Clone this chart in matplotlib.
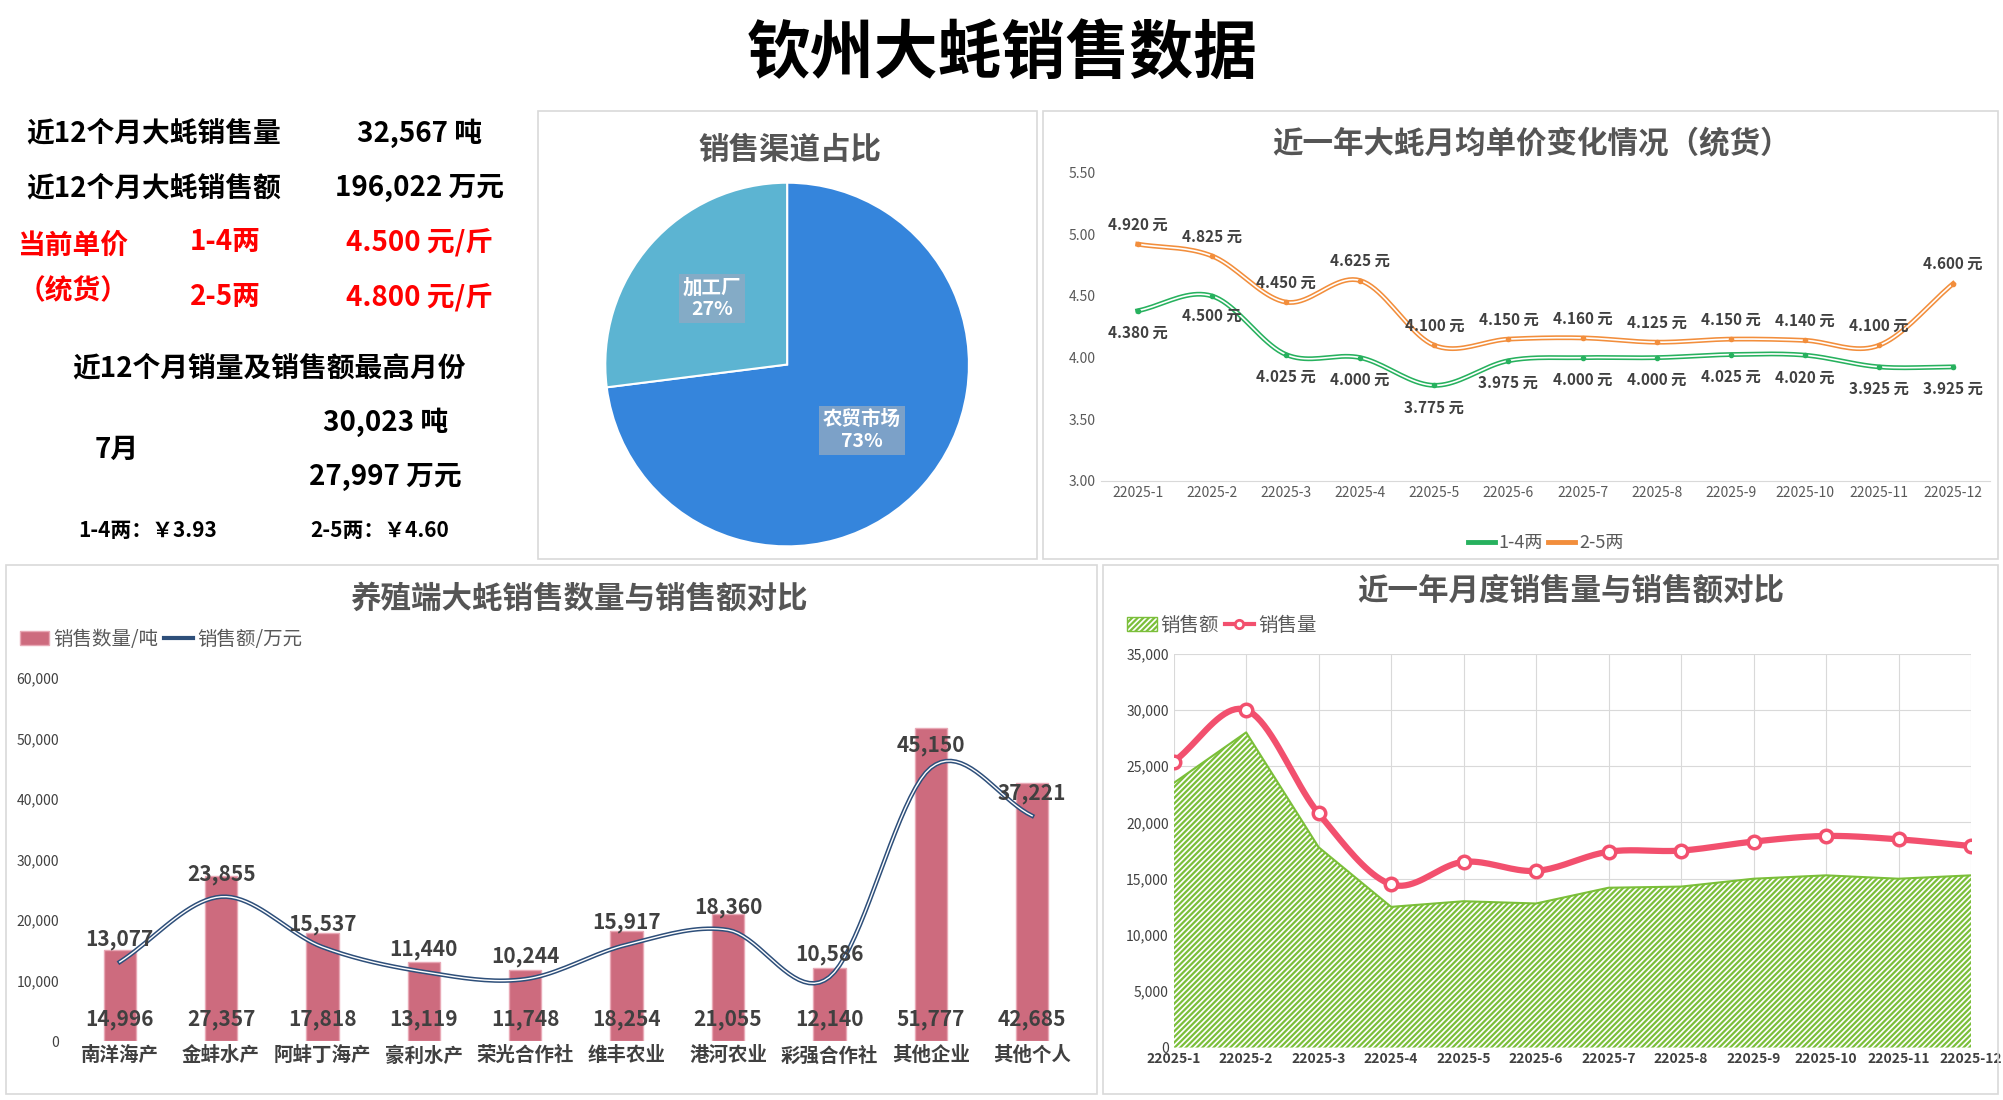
import matplotlib
matplotlib.use("Agg")
import matplotlib.pyplot as plt
import numpy as np
from matplotlib.patches import Rectangle, Patch
from matplotlib.lines import Line2D

plt.rcParams['font.family'] = ['Noto Sans CJK SC', 'DejaVu Sans']
plt.rcParams['hatch.color'] = '#7bbf3a'
plt.rcParams['hatch.linewidth'] = 1.6

months = [f"22025-{i}" for i in range(1, 13)]
price_14 = [4.380, 4.500, 4.025, 4.000, 3.775, 3.975, 4.000, 4.000, 4.025, 4.020, 3.925, 3.925]
price_25 = [4.920, 4.825, 4.450, 4.625, 4.100, 4.150, 4.160, 4.125, 4.150, 4.140, 4.100, 4.600]

channels = ["农贸市场", "加工厂"]
channel_share = [73, 27]

farms = ["南洋海产", "金蚌水产", "阿蚌丁海产", "豪利水产", "荣光合作社", "维丰农业", "港河农业", "彩强合作社", "其他企业", "其他个人"]
farm_qty = [14996, 27357, 17818, 13119, 11748, 18254, 21055, 12140, 51777, 42685]
farm_amt = [13077, 23855, 15537, 11440, 10244, 15917, 18360, 10586, 45150, 37221]

month_amt = [23500, 28000, 17800, 12500, 13000, 12800, 14200, 14300, 15000, 15300, 15000, 15300]
month_qty = [25400, 30000, 20800, 14500, 16500, 15700, 17400, 17500, 18300, 18800, 18500, 17900]

W, H = 1565.0, 860.0
fig = plt.figure(figsize=(20.03, 11.0), dpi=100)
fig.patch.set_facecolor('white')

def fx(x): return x / W
def fy(y): return 1 - y / H

def box(x0, y0, x1, y1):
    fig.add_artist(Rectangle((fx(x0), fy(y1)), fx(x1) - fx(x0), fy(y0) - fy(y1),
                             transform=fig.transFigure, fill=False, ec='#d9d9d9', lw=1.2))

def smooth(xs, ys, n=20):
    xs = np.asarray(xs, float); ys = np.asarray(ys, float)
    px = np.concatenate([[2*xs[0]-xs[1]], xs, [2*xs[-1]-xs[-2]]])
    py = np.concatenate([[2*ys[0]-ys[1]], ys, [2*ys[-1]-ys[-2]]])
    ox, oy = [], []
    for i in range(1, len(px) - 2):
        t = np.linspace(0, 1, n, endpoint=False)
        for P, out in ((px, ox), (py, oy)):
            p0, p1, p2, p3 = P[i-1], P[i], P[i+1], P[i+2]
            out.extend(0.5*((2*p1) + (-p0+p2)*t + (2*p0-5*p1+4*p2-p3)*t**2 + (-p0+3*p1-3*p2+p3)*t**3))
    ox.append(xs[-1]); oy.append(ys[-1])
    return np.array(ox), np.array(oy)

# Title
fig.text(fx(783), fy(42), "钦州大蚝销售数据", ha='center', va='center', fontsize=46, fontweight='bold')

# KPI panel
kf = dict(fontsize=20, fontweight='bold', va='center')
fig.text(fx(120), fy(104), "近12个月大蚝销售量", ha='center', **kf)
fig.text(fx(328), fy(104), "32,567 吨", ha='center', **kf)
fig.text(fx(120), fy(147), "近12个月大蚝销售额", ha='center', **kf)
fig.text(fx(328), fy(147), "196,022 万元", ha='center', **kf)
fig.text(fx(57), fy(192), "当前单价", ha='center', color='red', **kf)
fig.text(fx(57), fy(228), "（统货）", ha='center', color='red', **kf)
fig.text(fx(176), fy(189), "1-4两", ha='center', color='red', **kf)
fig.text(fx(176), fy(232), "2-5两", ha='center', color='red', **kf)
fig.text(fx(328), fy(189), "4.500 元/斤", ha='center', color='red', **kf)
fig.text(fx(328), fy(232), "4.800 元/斤", ha='center', color='red', **kf)
fig.text(fx(210), fy(288), "近12个月销量及销售额最高月份", ha='center', **kf)
fig.text(fx(91), fy(352), "7月", ha='center', **kf)
fig.text(fx(301), fy(330), "30,023 吨", ha='center', **kf)
fig.text(fx(301), fy(373), "27,997 万元", ha='center', **kf)
fig.text(fx(115), fy(415), "1-4两：￥3.93", ha='center', fontsize=15, fontweight='bold', va='center')
fig.text(fx(297), fy(415), "2-5两：￥4.60", ha='center', fontsize=15, fontweight='bold', va='center')

# Panel boxes
box(420, 87, 810, 437)
box(815, 87, 1561, 437)
box(5, 442, 857, 855)
box(862, 442, 1561, 855)

tf = dict(ha='center', va='center', fontsize=22, fontweight='bold', color='#555555')

# Pie
fig.text(fx(617), fy(117), "销售渠道占比", **tf)
axp = fig.add_axes([fx(470), fy(430), fx(290), fy(140) - fy(430)])
wedges, _ = axp.pie(channel_share, startangle=90, counterclock=False, radius=1.0,
                    colors=['#3585dc', '#5cb4d2'],
                    wedgeprops=dict(edgecolor='white', linewidth=1.5))
axp.set_aspect('equal')
axp.set_xlim(-1.02, 1.02); axp.set_ylim(-1.02, 1.02)
for w, name, v in zip(wedges, channels, channel_share):
    ang = np.deg2rad((w.theta1 + w.theta2) / 2)
    r = 0.55
    axp.text(r*np.cos(ang), r*np.sin(ang), f"{name}\n{v}%", ha='center', va='center', color='white',
             fontsize=14, fontweight='bold',
             bbox=dict(facecolor='#8fa9c4', alpha=0.8, edgecolor='none', pad=3))

# Price line chart
fig.text(fx(1197), fy(112), "近一年大蚝月均单价变化情况（统货）", **tf)
axl = fig.add_axes([fx(860), fy(376), fx(1555) - fx(860), fy(135) - fy(376)])
x = np.arange(12)
c14, c25 = '#27b15e', '#f28e3c'
for ys, c, lab in ((price_14, c14, '1-4两'), (price_25, c25, '2-5两')):
    sx, sy = smooth(x, ys)
    axl.plot(sx, sy, color=c, lw=3.5, label=lab)
    axl.plot(sx, sy, color='white', lw=1.2)
    axl.plot(x, ys, 'o', color=c, ms=3)
for i in range(12):
    a, b = price_14[i], price_25[i]
    axl.annotate(f"{a:.3f} 元", (i, a), xytext=(0, -16 if i != 1 else -14),
                 textcoords='offset points', ha='center', va='center', fontsize=11, fontweight='bold', color='#404040')
    axl.annotate(f"{b:.3f} 元", (i, b), xytext=(0, 14),
                 textcoords='offset points', ha='center', va='center', fontsize=11, fontweight='bold', color='#404040')
axl.set_xlim(-0.5, 11.5)
axl.set_ylim(3.0, 5.5)
axl.set_yticks(np.arange(3.0, 5.51, 0.5))
axl.set_yticklabels([f"{v:.2f}" for v in np.arange(3.0, 5.51, 0.5)], fontsize=10, color='#595959')
axl.set_xticks(x)
axl.set_xticklabels(months, fontsize=10, color='#595959')
for s in ('top', 'right', 'left'):
    axl.spines[s].set_visible(False)
axl.spines['bottom'].set_color('#d9d9d9')
axl.tick_params(length=0)
axl.legend(loc='upper center', bbox_to_anchor=(0.5, -0.12), ncol=2, frameon=False, fontsize=13,
           handlelength=1.5, columnspacing=0.3, handletextpad=0.2, labelcolor='#595959')

# Bar + line chart
fig.text(fx(452), fy(468), "养殖端大蚝销售数量与销售额对比", **tf)
axb = fig.add_axes([fx(50), fy(814), fx(850) - fx(50), fy(530) - fy(814)])
xb = np.arange(len(farms))
bars = axb.bar(xb, farm_qty, width=0.32, color='#cd6b7e', edgecolor='#e8a8b5', lw=1)
sx, sy = smooth(xb, farm_amt)
ln, = axb.plot(sx, sy, color='#2e4f7a', lw=3.2)
axb.plot(sx, sy, color='white', lw=1)
for i in range(len(farms)):
    axb.text(i, 3500, f"{farm_qty[i]:,}", ha='center', va='center', fontsize=15, fontweight='bold', color='#404040')
    axb.annotate(f"{farm_amt[i]:,}", (i, farm_amt[i]), xytext=(0, 16), textcoords='offset points',
                 ha='center', va='center', fontsize=15, fontweight='bold', color='#404040')
axb.set_xlim(-0.55, 9.55)
axb.set_ylim(0, 60000)
axb.set_yticks(range(0, 60001, 10000))
axb.set_yticklabels([f"{v:,}" for v in range(0, 60001, 10000)], fontsize=10, color='#404040')
axb.set_xticks(xb)
axb.set_xticklabels(farms, fontsize=14, fontweight='bold', color='#404040')
for s in ('top', 'right', 'left', 'bottom'):
    axb.spines[s].set_visible(False)
axb.tick_params(length=0)
axb.legend(handles=[Patch(facecolor='#cd6b7e', edgecolor='#e8a8b5', label='销售数量/吨'),
                    Line2D([], [], color='#2e4f7a', lw=3, label='销售额/万元')],
           loc='lower left', bbox_to_anchor=(-0.06, 1.03), ncol=2, frameon=False, fontsize=14,
           handlelength=1.5, columnspacing=0.3, handletextpad=0.2, labelcolor='#595959')

# Area + line chart
fig.text(fx(1227), fy(462), "近一年月度销售量与销售额对比", **tf)
axa = fig.add_axes([fx(917), fy(819), fx(1540) - fx(917), fy(511) - fy(819)])
axa.fill_between(x, month_amt, facecolor='white', hatch='//////', edgecolor='#7bbf3a', lw=0)
axa.plot(x, month_amt, color='#7bbf3a', lw=1.5)
sx, sy = smooth(x, month_qty)
axa.plot(sx, sy, color='#f2506e', lw=4.5, zorder=3)
axa.plot(x, month_qty, 'o', color='#f2506e', ms=9, mfc='white', mew=2.5, zorder=4)
axa.legend(handles=[Patch(facecolor='white', hatch='//////', edgecolor='#7bbf3a', label='销售额'),
                    Line2D([], [], color='#f2506e', lw=3, marker='o', mfc='white', mew=2, label='销售量')],
           loc='lower left', bbox_to_anchor=(-0.08, 1.0), ncol=2, frameon=False, fontsize=14,
           handlelength=1.5, columnspacing=0.3, handletextpad=0.2, labelcolor='#595959')
axa.set_xlim(0, 11)
axa.set_ylim(0, 35000)
axa.set_yticks(range(0, 35001, 5000))
axa.set_yticklabels([f"{v:,}" for v in range(0, 35001, 5000)], fontsize=10, color='#404040')
axa.set_xticks(x)
axa.set_xticklabels(months, fontsize=10, fontweight='bold', color='#404040')
axa.grid(True, color='#d9d9d9', lw=0.8)
axa.set_axisbelow(True)
for s in axa.spines.values():
    s.set_visible(False)
axa.tick_params(length=0)

fig.savefig('out.png', dpi=100, facecolor='white')
